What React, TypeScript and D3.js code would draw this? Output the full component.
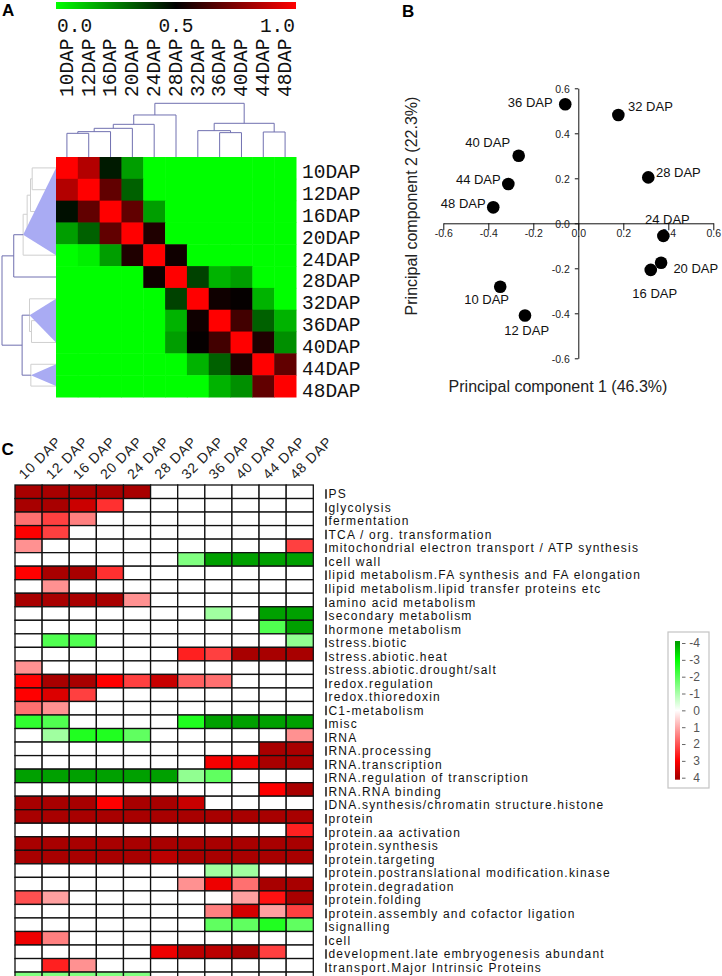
import React, { useEffect, useRef } from 'react';
import * as d3 from 'd3';

// ---- Panel A: correlation between stages ----
const dapLabels = ['10DAP', '12DAP', '16DAP', '20DAP', '24DAP', '28DAP', '32DAP', '36DAP', '40DAP', '44DAP', '48DAP'];

const corrMatrix = [
  [1.0, 0.85, 0.45, 0.19, 0, 0, 0, 0, 0, 0, 0],
  [0.85, 1.0, 0.69, 0.31, 0, 0, 0, 0, 0, 0, 0],
  [0.47, 0.69, 1.0, 0.69, 0.19, 0, 0, 0, 0, 0, 0],
  [0.19, 0.31, 0.69, 1.0, 0.56, 0, 0, 0, 0, 0, 0],
  [0, 0.03, 0.19, 0.56, 1.0, 0.53, 0, 0, 0, 0, 0],
  [0, 0, 0, 0, 0.53, 1.0, 0.37, 0.15, 0.19, 0, 0],
  [0, 0, 0, 0, 0, 0.37, 1.0, 0.53, 0.51, 0.15, 0],
  [0, 0, 0, 0, 0, 0.15, 0.53, 1.0, 0.63, 0.31, 0.15],
  [0, 0, 0, 0, 0, 0.19, 0.51, 0.63, 1.0, 0.56, 0.22],
  [0, 0, 0, 0, 0, 0, 0.15, 0.31, 0.56, 1.0, 0.69],
  [0, 0, 0, 0, 0, 0, 0, 0.15, 0.22, 0.69, 1.0],
];

const colorbarTicks = [0, 0.5, 1];

// hierarchical clustering merges: [node, childA, childB, height]
const dendroMerges: [string, string, string, number][] = [
  ['n1', '10DAP', '12DAP', 0.71],
  ['n2', 'n1', '16DAP', 0.76],
  ['n3', 'n2', '20DAP', 0.86],
  ['n4', 'n3', '24DAP', 0.98],
  ['n5', 'n4', '28DAP', 1.26],
  ['n6', '36DAP', '40DAP', 0.73],
  ['n7', '32DAP', 'n6', 0.79],
  ['n8', '44DAP', '48DAP', 0.75],
  ['n9', 'n7', 'n8', 1.01],
  ['root', 'n5', 'n9', 1.61],
];
const collapsedNodes = ['n4', 'n7', 'n8'];

// ---- Panel B: PCA ----
const pcaLabels = ['10 DAP', '12 DAP', '16 DAP', '20 DAP', '24 DAP', '28 DAP', '32 DAP', '36 DAP', '40 DAP', '44 DAP', '48 DAP'];
const pc1 = [-0.347, -0.237, 0.322, 0.368, 0.378, 0.311, 0.178, -0.058, -0.265, -0.311, -0.378];
const pc2 = [-0.282, -0.41, -0.207, -0.175, -0.056, 0.204, 0.481, 0.529, 0.3, 0.175, 0.071];
const pcaTicks = [-0.6, -0.4, -0.2, 0, 0.2, 0.4, 0.6];

// label placement per point: [anchor, dx, dy]
const pcaLabelPlace: [string, number, number][] = [
  ['middle', -13.6, 17.3],
  ['middle', 1.7, 19.3],
  ['middle', 4, 27.7],
  ['start', 12.3, 10],
  ['middle', 4, -12],
  ['start', 7.7, 0],
  ['start', 9.7, -4.3],
  ['end', -12.6, 2.4],
  ['middle', -31, -8.4],
  ['end', -7.6, 0],
  ['end', -7.6, 1],
];

// ---- Panel C: MapMan bins ----
const dapCols = ['10 DAP', '12 DAP', '16 DAP', '20 DAP', '24 DAP', '28 DAP', '32 DAP', '36 DAP', '40 DAP', '44 DAP', '48 DAP'];

const pathways = [
  'PS',
  'glycolysis',
  'fermentation',
  'TCA / org. transformation',
  'mitochondrial electron transport / ATP synthesis',
  'cell wall',
  'lipid metabolism.FA synthesis and FA elongation',
  'lipid metabolism.lipid transfer proteins etc',
  'amino acid metabolism',
  'secondary metabolism',
  'hormone metabolism',
  'stress.biotic',
  'stress.abiotic.heat',
  'stress.abiotic.drought/salt',
  'redox.regulation',
  'redox.thioredoxin',
  'C1-metabolism',
  'misc',
  'RNA',
  'RNA.processing',
  'RNA.transcription',
  'RNA.regulation of transcription',
  'RNA.RNA binding',
  'DNA.synthesis/chromatin structure.histone',
  'protein',
  'protein.aa activation',
  'protein.synthesis',
  'protein.targeting',
  'protein.postranslational modification.kinase',
  'protein.degradation',
  'protein.folding',
  'protein.assembly and cofactor ligation',
  'signalling',
  'cell',
  'development.late embryogenesis abundant',
  'transport.Major Intrinsic Proteins',
];

const foldChange = [
  [4, 4, 4, 4, 4, 0, 0, 0, 0, 0, 0],
  [4, 4, 3.6, 2.44, 0, 0, 0, 0, 0, 0, 0],
  [1.68, 2.25, 1.5, 0, 0, 0, 0, 0, 0, 0, 0],
  [3, 2.25, 0, 0, 0, 0, 0, 0, 0, 0, 0],
  [1.3, 0, 0, 0, 0, 0, 0, 0, 0, 0, 2.25],
  [0, 0, 0, 0, 0, 0, -1.5, -4, -4, -4, -4],
  [3, 4, 4, 2.44, 0, 0, 0, 0, 0, 0, 0],
  [0, 1.3, 0, 0, 0, 0, 0, 0, 0, 0, 0],
  [4, 4, 4, 4, 1.3, 0, 0, 0, 0, 0, 0],
  [0, 0, 0, 0, 0, 0, 0, -1.12, 0, -4, -4],
  [0, 0, 0, 0, 0, 0, 0, 0, 0, -2.06, -4],
  [0, -2.06, -2.06, 0, 0, 0, 0, 0, 0, 0, -1.3],
  [0, 0, 0, 0, 0, 0, 2.62, 2.25, 4, 4, 4],
  [1.3, 0, 0, 0, 0, 0, 0, 0, 0, 0, 0],
  [3, 4, 4, 3, 2.25, 3.63, 1.87, 1.68, 0, 0, 0],
  [3, 3.4, 2.25, 0, 0, 0, 0, 0, 0, 0, 0],
  [1.68, 1.3, 0, 0, 0, 0, 0, 0, 0, 0, 0],
  [-2.44, -2.06, 0, 0, 0, 0, -2.62, -4, -4, -4, -4],
  [0, -1.12, -2.62, -2.62, -1.87, 0, 0, 0, 0, 0, 1.3],
  [0, 0, 0, 0, 0, 0, 0, 0, 0, 4, 4],
  [0, 0, 0, 0, 0, 0, 0, 3.1, 3.2, 4, 4],
  [-4, -4, -4, -4, -4, -4, -1.3, -1.87, 0, 0, 0],
  [0, 0, 0, 0, 0, 0, 0, 0, 0, 3, 4],
  [4, 4, 4, 3, 4, 4, 3.63, 0, 0, 0, 0],
  [4, 4, 4, 4, 4, 4, 4, 4, 4, 4, 4],
  [0, 0, 0, 0, 0, 0, 0, 0, 0, 0, 2.62],
  [4, 4, 4, 4, 4, 4, 4, 4, 4, 4, 4],
  [4, 4, 4, 4, 4, 3.78, 4, 4, 4, 4, 4],
  [0, 0, 0, 0, 0, 0, 0, -1.12, -1.12, 0, 0],
  [0, 0, 0, 0, 0, 0, 1.3, 3.2, 1.68, 4, 4],
  [2.06, 1.12, 0, 0, 0, 0, 0, 0, 1.12, 2.8, 4],
  [0, 0, 0, 0, 0, 0, 0, 1.5, 3.5, 1.12, 2.25],
  [0, 0, 0, 0, 0, 0, 0, -1.87, -1.87, -2.62, -1.87],
  [3.2, 1.5, 0, 0, 0, 0, 0, 0, 0, 0, 0],
  [0, 0, 0, 0, 0, 3.2, 3.78, 3.78, 4, 2.25, 0],
  [0, 2.62, 1.3, 0, 0, 0, 0, 0, 0, 0, 0],
];
// next row is cut off by the bottom of the figure
const cutOffRow = [-1.5, -1.5, -1.5, -1.5, -1.5, 0, 0, 0, 0, 0, 0];

const legendTicks = [-4, -3, -2, -1, 0, 1, 2, 3, 4];

const sans = "'Liberation Sans', Arial, sans-serif";
const mono = "'Liberation Mono', 'Courier New', monospace";

function drawPanelA(svg) {
  const g = svg.append('g');
  const hx = d3.scaleBand().domain(dapLabels).range([56, 296]);
  const hy = d3.scaleBand().domain(dapLabels).range([157, 397]);
  const corrColor = d3.scaleLinear<string>().domain([0, 0.5, 1]).range(['#00ff00', '#000000', '#ff0000']);

  g.append('text').attr('x', 2).attr('y', 16).text('A')
    .style('font-family', sans).style('font-weight', 'bold').style('font-size', '17px');

  // colour bar
  const grad = svg.append('defs').append('linearGradient').attr('id', 'corrGrad');
  colorbarTicks.forEach(t => grad.append('stop').attr('offset', `${t * 100}%`).attr('stop-color', corrColor(t)));
  const cb = d3.scaleLinear().domain([0, 1]).range([56, 296]);
  g.append('rect').attr('x', cb(0)).attr('y', 2).attr('width', cb(1) - cb(0)).attr('height', 7).attr('fill', 'url(#corrGrad)');
  g.selectAll('text.cbt').data(colorbarTicks).join('text')
    .attr('x', d => cb(d) + (d === 0 ? 1 : d === 1 ? -1 : 0))
    .attr('y', 32)
    .attr('text-anchor', d => (d === 0 ? 'start' : d === 1 ? 'end' : 'middle'))
    .style('font-family', mono).style('font-size', '19.5px').attr('fill', '#111')
    .text(d => d.toFixed(1));

  // heatmap
  const cells = [];
  corrMatrix.forEach((row, i) => row.forEach((v, j) => cells.push({ r: dapLabels[i], c: dapLabels[j], v })));
  g.selectAll('rect.cell').data(cells).join('rect')
    .attr('x', d => hx(d.c)).attr('y', d => hy(d.r))
    .attr('width', hx.bandwidth() + 0.5).attr('height', hy.bandwidth() + 0.5)
    .attr('fill', d => corrColor(d.v));

  // column labels
  g.selectAll('text.col').data(dapLabels).join('text')
    .attr('transform', d => `translate(${hx(d) + hx.bandwidth() / 2 + 5.8},97) rotate(-90)`)
    .style('font-family', mono).style('font-size', '19.5px').attr('fill', '#111')
    .text(d => d);

  // row labels
  g.selectAll('text.row').data(dapLabels).join('text')
    .attr('x', 302).attr('y', d => hy(d) + hy.bandwidth() - 0.5)
    .style('font-family', mono).style('font-size', '19.5px').attr('fill', '#111')
    .text(d => d);

  // dendrogram layout
  const children = new Map<string, string[]>();
  const height = new Map<string, number>();
  dapLabels.forEach(l => height.set(l, 0));
  dendroMerges.forEach(([id, a, b, h]) => { children.set(id, [a, b]); height.set(id, h); });
  const pos = new Map<string, number>();
  dapLabels.forEach(l => pos.set(l, hx(l) + hx.bandwidth() / 2));
  dendroMerges.forEach(([id, a, b]) => pos.set(id, (pos.get(a) + pos.get(b)) / 2));
  const leavesOf = (n: string): string[] => (children.has(n) ? children.get(n).flatMap(leavesOf) : [n]);
  const nodesOf = (n: string): string[] => (children.has(n) ? [n, ...children.get(n).flatMap(nodesOf)] : []);

  const dark = '#7070b0';
  // column dendrogram (top)
  const colH = d3.scaleLinear().domain([0, 1.61]).range([157, 103.3]);
  const colPath = d3.path();
  dendroMerges.forEach(([id, a, b, h]) => {
    colPath.moveTo(pos.get(a), colH(height.get(a)));
    colPath.lineTo(pos.get(a), colH(h));
    colPath.lineTo(pos.get(b), colH(h));
    colPath.lineTo(pos.get(b), colH(height.get(b)));
  });
  g.append('path').attr('d', colPath.toString()).attr('fill', 'none').attr('stroke', dark).attr('stroke-width', 1);

  // row dendrogram (left), with collapsed clusters
  const rowH = d3.scaleLinear().domain([0, 1.61]).range([56, 2]);
  const rowPos = new Map<string, number>();
  dapLabels.forEach(l => rowPos.set(l, hy(l) + hy.bandwidth() / 2));
  dendroMerges.forEach(([id, a, b]) => rowPos.set(id, (rowPos.get(a) + rowPos.get(b)) / 2));
  const hidden = new Set(collapsedNodes.flatMap(nodesOf));
  const greyPath = d3.path();
  const darkPath = d3.path();
  dendroMerges.forEach(([id, a, b, h]) => {
    const p = hidden.has(id) ? greyPath : darkPath;
    p.moveTo(rowH(height.get(a)), rowPos.get(a));
    p.lineTo(rowH(h), rowPos.get(a));
    p.lineTo(rowH(h), rowPos.get(b));
    p.lineTo(rowH(height.get(b)), rowPos.get(b));
  });
  g.append('path').attr('d', greyPath.toString()).attr('fill', 'none').attr('stroke', '#cfcfcf').attr('stroke-width', 1);
  collapsedNodes.forEach(n => {
    const lv = leavesOf(n);
    const y0 = d3.min(lv, l => rowPos.get(l));
    const y1 = d3.max(lv, l => rowPos.get(l));
    g.append('path')
      .attr('d', `M${rowH(height.get(n))},${rowPos.get(n)}L${rowH(0)},${y0}L${rowH(0)},${y1}Z`)
      .attr('fill', '#a9abf3');
  });
  g.append('path').attr('d', darkPath.toString()).attr('fill', 'none').attr('stroke', dark).attr('stroke-width', 1);
}

function drawPanelB(svg) {
  const g = svg.append('g').style('font-family', sans);
  const x = d3.scaleLinear().domain([-0.6, 0.6]).range([443.3, 713.3]);
  const y = d3.scaleLinear().domain([-0.6, 0.6]).range([358.3, 88.3]);

  g.append('text').attr('x', 402).attr('y', 16.5).text('B')
    .style('font-weight', 'bold').style('font-size', '17px');

  const fmt = (d: number) => d.toFixed(1);
  const xAxis = g.append('g').attr('transform', `translate(0,${y(0)})`)
    .call(d3.axisBottom(x).tickValues(pcaTicks).tickSize(7).tickSizeOuter(0).tickPadding(-0.5).tickFormat(fmt));
  const yAxis = g.append('g').attr('transform', `translate(${x(0)},0)`)
    .call(d3.axisLeft(y).tickValues(pcaTicks).tickSize(3.5).tickSizeOuter(0).tickPadding(5).tickFormat(fmt));
  [xAxis, yAxis].forEach(ax => {
    ax.selectAll('text').style('font-family', sans).style('font-size', '10.5px').attr('fill', '#222');
    ax.selectAll('line,path').attr('stroke', '#111');
  });
  yAxis.selectAll('text').attr('dy', '0.42em');

  const pts = pcaLabels.map((l, i) => ({ l, x: pc1[i], y: pc2[i], place: pcaLabelPlace[i] }));
  g.selectAll('circle.pt').data(pts).join('circle')
    .attr('cx', d => x(d.x)).attr('cy', d => y(d.y)).attr('r', 6.3).attr('fill', '#000');
  g.selectAll('text.pl').data(pts).join('text')
    .attr('x', d => x(d.x) + d.place[1]).attr('y', d => y(d.y) + d.place[2])
    .attr('text-anchor', d => d.place[0])
    .style('font-size', '13px').attr('fill', '#111')
    .text(d => d.l);

  g.append('text').attr('x', 558).attr('y', 392).attr('text-anchor', 'middle')
    .style('font-size', '16px').attr('fill', '#222').text('Principal component 1 (46.3%)');
  g.append('text').attr('transform', 'translate(417,206) rotate(-90)').attr('text-anchor', 'middle')
    .style('font-size', '16px').attr('fill', '#222').text('Principal component 2 (22.3%)');
}

function drawPanelC(svg) {
  const g = svg.append('g').style('font-family', sans);
  const rows = [...foldChange, cutOffRow];
  const cx = d3.scaleBand().domain(dapCols).range([15, 313.3]);
  const cy = d3.scaleBand<number>().domain(d3.range(rows.length)).range([485, 485 + 13.53 * rows.length]);
  const fc = d3.scaleLinear<string>().domain([-4, -3, 0, 3, 4]).range(['#00a000', '#00ff00', '#ffffff', '#ff0000', '#a80000']);

  g.append('text').attr('x', 1.5).attr('y', 455).text('C')
    .style('font-weight', 'bold').style('font-size', '17px');

  const cells = [];
  rows.forEach((row, i) => row.forEach((v, j) => cells.push({ r: i, c: dapCols[j], v })));
  g.selectAll('rect.cell').data(cells).join('rect')
    .attr('x', d => cx(d.c)).attr('y', d => cy(d.r))
    .attr('width', cx.bandwidth()).attr('height', cy.bandwidth())
    .attr('fill', d => fc(d.v)).attr('stroke', '#111').attr('stroke-width', 1.3);

  g.selectAll('text.col').data(dapCols).join('text')
    .attr('transform', d => `translate(${cx(d) + cx.bandwidth() / 2 - 4},480) rotate(-45)`)
    .style('font-size', '14px').style('letter-spacing', '0.8px').attr('fill', '#222')
    .text(d => d);

  const rowLab = g.selectAll('g.rl').data(pathways).join('g')
    .attr('transform', (d, i) => `translate(0,${cy(i) + cy.bandwidth() / 2 + 6.5})`);
  rowLab.append('line').attr('x1', 326).attr('x2', 326).attr('y1', -9).attr('y2', 0.5)
    .attr('stroke', '#222').attr('stroke-width', 1.6);
  rowLab.append('text').attr('x', 328.5).attr('y', 0)
    .style('font-size', '12px').style('letter-spacing', '1.2px').attr('fill', '#111')
    .text(d => d);

  // legend
  const ly = d3.scaleLinear().domain([-4, 4]).range([643, 777.7]);
  g.append('rect').attr('x', 668).attr('y', 632).attr('width', 41).attr('height', 156)
    .attr('fill', '#fff').attr('stroke', '#c4c4c4').attr('stroke-width', 1.2);
  const lg = svg.append('defs').append('linearGradient').attr('id', 'fcGrad')
    .attr('x1', 0).attr('y1', 0).attr('x2', 0).attr('y2', 1);
  const y0 = ly(-4) - 2;
  const y1 = ly(4) + 2;
  fc.domain().forEach(v => lg.append('stop').attr('offset', (ly(v) - y0) / (y1 - y0)).attr('stop-color', fc(v)));
  g.append('rect').attr('x', 675).attr('y', y0).attr('width', 5).attr('height', y1 - y0).attr('fill', 'url(#fcGrad)');
  const leg = g.append('g').attr('transform', 'translate(682,0)')
    .call(d3.axisRight(ly).tickValues(legendTicks).tickSize(3.5).tickSizeOuter(0).tickFormat(d => String(d)));
  leg.select('.domain').remove();
  leg.selectAll('line').attr('stroke', '#666');
  leg.selectAll('text').attr('x', 18).attr('text-anchor', 'end')
    .style('font-family', sans).style('font-size', '12px').attr('fill', '#555');
}

export default function App() {
  const ref = useRef<SVGSVGElement>(null);
  useEffect(() => {
    const svg = d3.select(ref.current);
    svg.selectAll('*').remove();
    drawPanelA(svg);
    drawPanelB(svg);
    drawPanelC(svg);
  }, []);
  return (
    <svg ref={ref} width={722} height={976}
      style={{ position: 'absolute', left: 0, top: 0, background: '#fff', display: 'block' }} />
  );
}
